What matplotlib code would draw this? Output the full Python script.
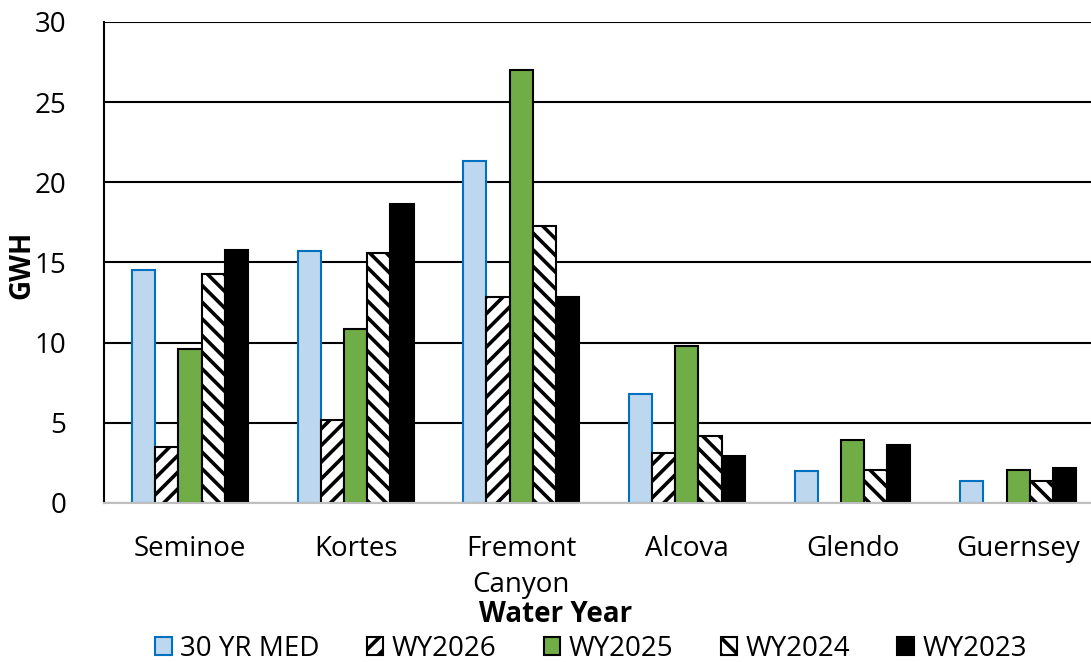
import numpy as np
import matplotlib
matplotlib.use("Agg")
import matplotlib.pyplot as plt

plt.rcParams['font.family'] = ['Open Sans', 'DejaVu Sans']
plt.rcParams['hatch.linewidth'] = 2.6

# data (GWH)
dams = ["Seminoe", "Kortes", "Fremont\nCanyon", "Alcova", "Glendo", "Guernsey"]
series_names = ["30 YR MED", "WY2026", "WY2025", "WY2024", "WY2023"]
med30 = [14.5, 15.7, 21.3, 6.8, 2.0, 1.35]
wy2026 = [3.5, 5.2, 12.85, 3.1, np.nan, np.nan]
wy2025 = [9.6, 10.85, 27.0, 9.8, 3.9, 2.05]
wy2024 = [14.3, 15.6, 17.3, 4.2, 2.05, 1.4]
wy2023 = [15.8, 18.65, 12.85, 2.9, 3.6, 2.2]

fig = plt.figure(figsize=(10.91, 6.62), dpi=100)
ax = fig.add_axes([0.0953, 0.2402, 0.9047, 0.7266])

x = np.arange(len(dams))
w = 0.14
styles = [
    dict(color="#BDD7EE", edgecolor="#0070C0", hatch=None),
    dict(color="white", edgecolor="black", hatch="//"),
    dict(color="#70AD47", edgecolor="black", hatch=None),
    dict(color="white", edgecolor="black", hatch="\\\\"),
    dict(color="black", edgecolor="black", hatch=None),
]
for i, (vals, name, st) in enumerate(zip([med30, wy2026, wy2025, wy2024, wy2023], series_names, styles)):
    ax.bar(x + (i - 2) * w, vals, w, label=name, color=st["color"],
           edgecolor=st["edgecolor"], hatch=st["hatch"], linewidth=1.5, zorder=3)

ax.set_xlim(-0.519, 5.44)
ax.set_ylim(0, 30)
ax.set_yticks(range(0, 31, 5))
ax.set_xticks(x)
ax.set_xticklabels(dams, fontsize=20, linespacing=1.4)
ax.tick_params(axis='y', labelsize=20, length=0, pad=27)
ax.tick_params(axis='x', length=0, pad=23)
ax.yaxis.grid(True, color="black", linewidth=1.5, zorder=0)
ax.set_axisbelow(True)
ax.spines['top'].set_visible(False)
ax.spines['right'].set_visible(False)
ax.spines['left'].set_linewidth(1.5)
ax.spines['bottom'].set_color("#BFBFBF")
ax.spines['bottom'].set_linewidth(1.5)
ax.spines['bottom'].set_zorder(4)

fig.text(0.02, 1 - 265 / 662, "GWH", rotation=90, fontsize=20, fontweight='bold', va='center', ha='center')
fig.text(556 / 1091, 1 - 614 / 662, "Water Year", fontsize=20, fontweight='bold', va='center', ha='center')

fig.legend(loc='center', bbox_to_anchor=(591 / 1091, 1 - 649 / 662), ncol=5, frameon=False,
           fontsize=20, handlelength=0.6, handleheight=0.6, handletextpad=0.3,
           columnspacing=1.7, borderpad=0)

fig.savefig("out.png", dpi=100)
